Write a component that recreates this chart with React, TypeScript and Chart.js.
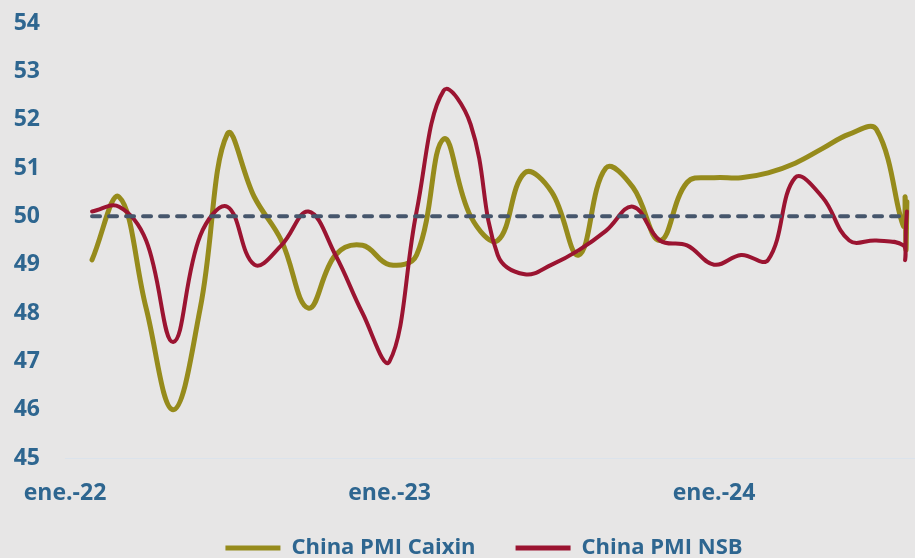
import React, { useEffect, useRef } from 'react';
import { Chart, registerables } from 'chart.js';

Chart.register(...registerables);

// ---- data ----
const dates = [
  '2022-01-31', '2022-02-28', '2022-03-31', '2022-04-30', '2022-05-31', '2022-06-30',
  '2022-07-31', '2022-08-31', '2022-09-30', '2022-10-31', '2022-11-30', '2022-12-31',
  '2023-01-31', '2023-02-28', '2023-03-31', '2023-04-30', '2023-05-31', '2023-06-30',
  '2023-07-31', '2023-08-31', '2023-09-30', '2023-10-31', '2023-11-30', '2023-12-31',
  '2024-01-31', '2024-02-29', '2024-03-31', '2024-04-30', '2024-05-31', '2024-06-30',
  '2024-07-31', '2024-08-02', '2024-08-03', '2024-08-04',
];

const caixin = [
  49.1, 50.4, 48.1, 46.0, 48.1, 51.7, 50.4, 49.5, 48.1, 49.2, 49.4, 49.0,
  49.2, 51.6, 50.0, 49.5, 50.9, 50.5, 49.2, 51.0, 50.6, 49.5, 50.7, 50.8,
  50.8, 50.9, 51.1, 51.4, 51.7, 51.8, 49.8, 50.4, 49.3, 50.3,
];

const nsb = [
  50.1, 50.2, 49.5, 47.4, 49.6, 50.2, 49.0, 49.4, 50.1, 49.2, 48.0, 47.0,
  50.1, 52.6, 51.9, 49.2, 48.8, 49.0, 49.3, 49.7, 50.2, 49.5, 49.4, 49.0,
  49.2, 49.1, 50.8, 50.4, 49.5, 49.5, 49.4, 49.1, 49.8, 50.1,
];

const seriesNames = ['China PMI Caixin', 'China PMI NSB'];
const xTickDates = ['2022-01-01', '2023-01-01', '2024-01-01'];
const xTickLabels = ['ene.-22', 'ene.-23', 'ene.-24'];
const yRange = [45, 54];
const referenceLevel = 50;
const referenceSpan = ['2022-01-31', '2024-07-31'];

// ---- helpers ----
const origin = 2022;
function toMonths(s: string): number {
  const [y, m, d] = s.split('-').map(Number);
  const dim = new Date(y, m, 0).getDate();
  return (y - origin) * 12 + (m - 1) + (d === 1 ? 0 : d / dim);
}

const FONT = "'Open Sans', 'DejaVu Sans', sans-serif";
const TEXT = '#2e6690';
const OLIVE = '#968b1c';
const RED = '#9b1431';
const DASH = '#46566c';
const BG = '#e7e6e6';

const legendPlace = {
  id: 'legendPlace',
  afterLayout(chart: any) {
    const lg = chart.legend;
    if (!lg) return;
    const h = lg.bottom - lg.top;
    lg.left = 53;
    lg.top = chart.chartArea.bottom + 39;
    lg.bottom = lg.top + h;
  },
};

export default function App() {
  const ref = useRef<HTMLCanvasElement | null>(null);

  useEffect(() => {
    document.body.style.margin = '0';
    document.body.style.background = BG;
    const canvas = ref.current!;
    const xs = dates.map(toMonths);
    const tickVals = xTickDates.map(toMonths);

    const chart = new Chart(canvas, {
      type: 'line',
      plugins: [legendPlace],
      data: {
        datasets: [
          {
            label: seriesNames[0],
            data: xs.map((x, i) => ({ x, y: caixin[i] })),
            borderColor: OLIVE,
            backgroundColor: OLIVE,
            borderWidth: 5,
            tension: 0.4,
            pointRadius: 0,
            borderCapStyle: 'round',
            borderJoinStyle: 'round',
            order: 2,
          },
          {
            label: seriesNames[1],
            data: xs.map((x, i) => ({ x, y: nsb[i] })),
            borderColor: RED,
            backgroundColor: RED,
            borderWidth: 4,
            tension: 0.4,
            pointRadius: 0,
            borderCapStyle: 'round',
            borderJoinStyle: 'round',
            order: 1,
          },
          {
            label: '__ref',
            data: referenceSpan.map((d) => ({ x: toMonths(d), y: referenceLevel })),
            borderColor: DASH,
            borderWidth: 4,
            borderDash: [8, 9],
            borderCapStyle: 'round',
            pointRadius: 0,
            order: 0,
          },
        ],
      },
      options: {
        responsive: false,
        animation: false,
        devicePixelRatio: 1,
        layout: { padding: { top: 23, right: 0, left: 0, bottom: 0 } },
        plugins: {
          tooltip: { enabled: false },
          legend: {
            position: 'bottom',
            labels: {
              color: TEXT,
              font: { family: FONT, size: 22, weight: 'bold' },
              boxWidth: 55,
              boxHeight: 5,
              padding: 40,
              generateLabels: (c: any) =>
                c.data.datasets
                  .map((ds: any, i: number) => ({
                    text: ds.label,
                    fillStyle: ds.borderColor,
                    strokeStyle: ds.borderColor,
                    lineWidth: 0,
                    hidden: false,
                    datasetIndex: i,
                    fontColor: TEXT,
                  }))
                  .filter((l: any) => l.text !== '__ref'),
            },
          },
        },
        scales: {
          x: {
            type: 'linear',
            min: 0,
            max: 31.43,
            grid: { display: false, drawTicks: false },
            border: { display: true, color: '#dbe3ec', width: 1 },
            afterBuildTicks: (axis: any) => {
              axis.ticks = tickVals.map((v) => ({ value: v }));
            },
            afterFit: (axis: any) => {
              axis.height = 58;
            },
            ticks: {
              autoSkip: false,
              maxRotation: 0,
              minRotation: 0,
              padding: 22,
              color: TEXT,
              font: { family: FONT, size: 23, weight: 'bold' },
              callback: (v: any) => {
                const idx = tickVals.findIndex((t) => Math.abs(t - v) < 1e-6);
                return idx >= 0 ? xTickLabels[idx] : '';
              },
            },
          },
          y: {
            min: yRange[0],
            max: yRange[1],
            grid: { display: false, drawTicks: false },
            border: { display: false },
            afterFit: (axis: any) => {
              axis.width = 65;
              axis.paddingTop = 0;
              axis.paddingBottom = 0;
            },
            ticks: {
              stepSize: 1,
              padding: 25,
              color: TEXT,
              font: { family: FONT, size: 23, weight: 'bold' },
            },
          },
        },
      },
    });
    return () => chart.destroy();
  }, []);

  return (
    <div style={{ width: 915, height: 558, overflow: 'hidden', background: BG, position: 'relative' }}>
      <canvas ref={ref} width={915} height={588} style={{ display: 'block' }} />
    </div>
  );
}
